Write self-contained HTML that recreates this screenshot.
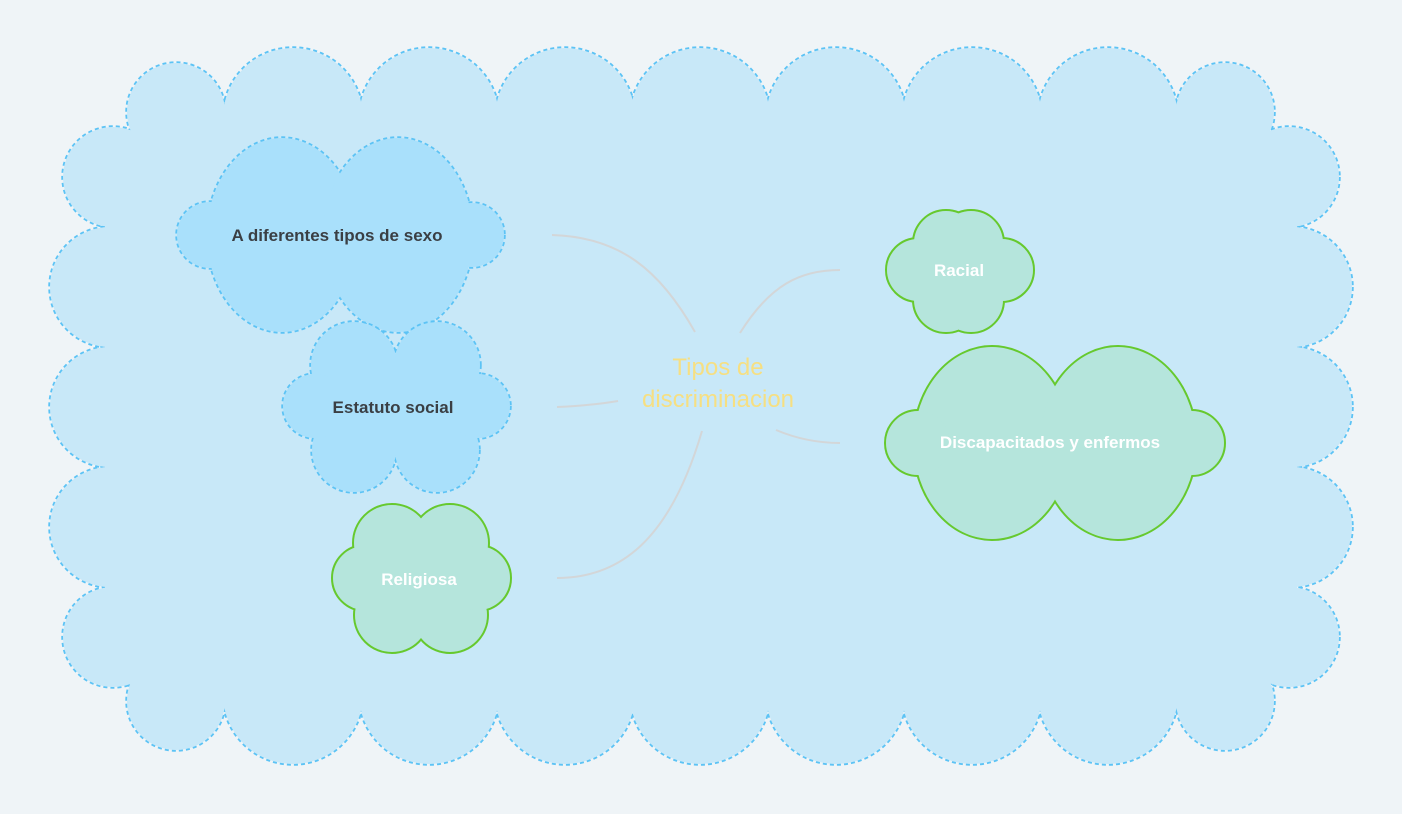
<!DOCTYPE html>
<html><head><meta charset="utf-8"><style>
html,body{margin:0;padding:0;background:#eff4f7;}
svg{display:block;}
text{font-family:"Liberation Sans",sans-serif;}
</style></head><body>
<svg width="1402" height="814" viewBox="0 0 1402 814">
<defs>
<g id="big">
<circle cx="176" cy="112" r="49"/>
<circle cx="293" cy="118" r="70"/><circle cx="429" cy="118" r="70"/><circle cx="565" cy="118" r="70"/>
<circle cx="700" cy="118" r="70"/><circle cx="836" cy="118" r="70"/><circle cx="972" cy="118" r="70"/><circle cx="1108" cy="118" r="70"/>
<circle cx="1225" cy="112" r="49"/>
<circle cx="176" cy="701" r="49"/>
<circle cx="293" cy="694" r="70"/><circle cx="429" cy="694" r="70"/><circle cx="565" cy="694" r="70"/>
<circle cx="700" cy="694" r="70"/><circle cx="836" cy="694" r="70"/><circle cx="972" cy="694" r="70"/><circle cx="1108" cy="694" r="70"/>
<circle cx="1225" cy="701" r="49"/>
<circle cx="113" cy="177" r="50"/><circle cx="110" cy="287" r="60"/><circle cx="110" cy="407" r="60"/><circle cx="110" cy="527" r="60"/><circle cx="113" cy="637" r="50"/>
<circle cx="1289" cy="177" r="50"/><circle cx="1292" cy="287" r="60"/><circle cx="1292" cy="407" r="60"/><circle cx="1292" cy="527" r="60"/><circle cx="1289" cy="637" r="50"/>
<rect x="150" y="115" width="1102" height="583"/>
<rect x="105" y="150" width="1192" height="513"/>
</g>
<g id="sexo">
<ellipse cx="282" cy="235" rx="75" ry="97"/><ellipse cx="398" cy="235" rx="75" ry="97"/>
<circle cx="210" cy="235" r="33"/><circle cx="472" cy="235" r="32"/>
</g>
<g id="estatuto">
<circle cx="354" cy="365" r="43"/><circle cx="437" cy="365" r="43"/>
<circle cx="354" cy="450" r="42"/><circle cx="437" cy="450" r="42"/>
<circle cx="315" cy="406" r="32"/><circle cx="478" cy="406" r="32"/>
<rect x="330" y="360" width="130" height="92"/>
</g>
<g id="relig">
<circle cx="392" cy="543" r="38"/><circle cx="450" cy="543" r="38"/>
<circle cx="392" cy="615" r="37"/><circle cx="450" cy="615" r="37"/>
<circle cx="365" cy="578" r="32"/><circle cx="478" cy="578" r="32"/>
<rect x="370" y="545" width="100" height="70"/>
</g>
<g id="racial">
<circle cx="946" cy="243" r="32"/><circle cx="971" cy="243" r="32"/>
<circle cx="946" cy="300" r="32"/><circle cx="971" cy="300" r="32"/>
<circle cx="918" cy="270" r="31"/><circle cx="1002" cy="270" r="31"/>
<rect x="925" y="245" width="70" height="55"/>
</g>
<g id="disc">
<ellipse cx="992" cy="443" rx="78" ry="96"/><ellipse cx="1118" cy="443" rx="78" ry="96"/>
<circle cx="918" cy="443" r="32"/><circle cx="1192" cy="443" r="32"/>
</g>
<mask id="mBig" maskUnits="userSpaceOnUse" x="0" y="0" width="1402" height="814"><rect width="1402" height="814" fill="#fff"/><use href="#big" fill="#000"/></mask>
<mask id="mSexo" maskUnits="userSpaceOnUse" x="0" y="0" width="1402" height="814"><rect width="1402" height="814" fill="#fff"/><use href="#sexo" fill="#000"/></mask>
<mask id="mEst" maskUnits="userSpaceOnUse" x="0" y="0" width="1402" height="814"><rect width="1402" height="814" fill="#fff"/><use href="#estatuto" fill="#000"/></mask>
<mask id="mRel" maskUnits="userSpaceOnUse" x="0" y="0" width="1402" height="814"><rect width="1402" height="814" fill="#fff"/><use href="#relig" fill="#000"/></mask>
<mask id="mRac" maskUnits="userSpaceOnUse" x="0" y="0" width="1402" height="814"><rect width="1402" height="814" fill="#fff"/><use href="#racial" fill="#000"/></mask>
<mask id="mDis" maskUnits="userSpaceOnUse" x="0" y="0" width="1402" height="814"><rect width="1402" height="814" fill="#fff"/><use href="#disc" fill="#000"/></mask>
</defs>
<use href="#big" fill="#c8e8f8"/>
<use href="#big" fill="none" stroke="#5cc3f5" stroke-width="3.5" stroke-dasharray="4 3" mask="url(#mBig)"/>
<g fill="none" stroke="#d3d6d8" stroke-width="2">
<path d="M552 235 C620 237 660 270 695 332"/>
<path d="M740 333 C770 285 800 270 840 270"/>
<path d="M557 407 C580 406 600 404 618 401"/>
<path d="M557 578 C620 578 670 540 702 431"/>
<path d="M776 430 C795 438 815 443 840 443"/>
</g>
<use href="#sexo" fill="#a9e0fb"/>
<use href="#sexo" fill="none" stroke="#5cc3f5" stroke-width="3.5" stroke-dasharray="4 3" mask="url(#mSexo)"/>
<use href="#estatuto" fill="#a9e0fb"/>
<use href="#estatuto" fill="none" stroke="#5cc3f5" stroke-width="3.5" stroke-dasharray="4 3" mask="url(#mEst)"/>
<use href="#relig" fill="#b5e5dc"/>
<use href="#relig" fill="none" stroke="#66c92e" stroke-width="4" mask="url(#mRel)"/>
<use href="#racial" fill="#b5e5dc"/>
<use href="#racial" fill="none" stroke="#66c92e" stroke-width="4" mask="url(#mRac)"/>
<use href="#disc" fill="#b5e5dc"/>
<use href="#disc" fill="none" stroke="#66c92e" stroke-width="4" mask="url(#mDis)"/>
<g font-size="17" font-weight="bold" text-anchor="middle">
<text x="337" y="241" fill="#3a3f44">A diferentes tipos de sexo</text>
<text x="393" y="413" fill="#3a3f44">Estatuto social</text>
<text x="419" y="585" fill="#ffffff">Religiosa</text>
<text x="959" y="276" fill="#ffffff">Racial</text>
<text x="1050" y="448" fill="#ffffff">Discapacitados y enfermos</text>
</g>
<g font-size="24" text-anchor="middle" fill="#f6df82">
<text x="718" y="375">Tipos de</text>
<text x="718" y="407">discriminacion</text>
</g>
</svg>
</body></html>
